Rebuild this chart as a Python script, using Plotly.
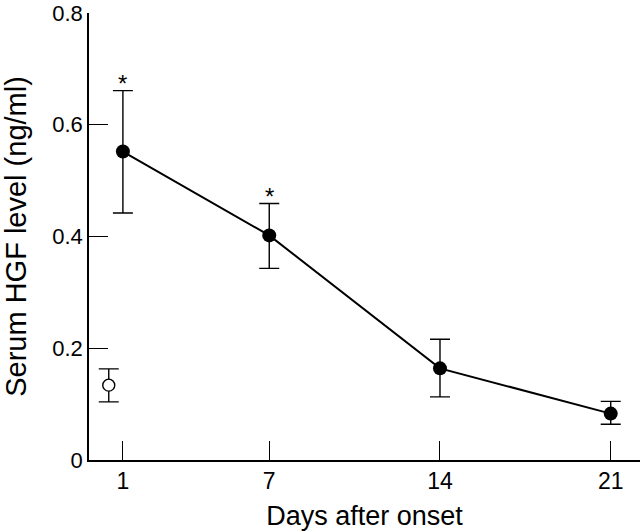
import plotly.graph_objects as go

# Data
days = [1, 7, 14, 21]
hgf_mean = [0.552, 0.402, 0.164, 0.083]
hgf_err_plus = [0.109, 0.057, 0.052, 0.022]
hgf_err_minus = [0.110, 0.059, 0.051, 0.019]
significant = [True, True, False, False]

control_day = [0.42]
control_mean = [0.134]
control_err_plus = [0.029]
control_err_minus = [0.030]

x_tick_vals = [1, 7, 14, 21]
x_tick_text = ["1", "7", "14", "21"]
y_tick_vals = [0, 0.2, 0.4, 0.6, 0.8]
y_tick_text = ["0", "0.2", "0.4", "0.6", "0.8"]

FONT = "Liberation Sans, Arial, Helvetica, sans-serif"

fig = go.Figure()

fig.add_trace(go.Scatter(
    x=days, y=hgf_mean, mode="lines+markers",
    line=dict(color="black", width=2),
    marker=dict(color="black", size=14, symbol="circle"),
    error_y=dict(type="data", symmetric=False, array=hgf_err_plus,
                 arrayminus=hgf_err_minus, color="black", thickness=1.4, width=10),
    showlegend=False,
))

fig.add_trace(go.Scatter(
    x=control_day, y=control_mean, mode="markers",
    marker=dict(color="white", size=12, symbol="circle",
                line=dict(color="black", width=1.4)),
    error_y=dict(type="data", symmetric=False, array=control_err_plus,
                 arrayminus=control_err_minus, color="black", thickness=1.4, width=10),
    showlegend=False,
))

for d, m, ep, sig in zip(days, hgf_mean, hgf_err_plus, significant):
    if sig:
        fig.add_annotation(x=d, y=m + ep, text="*", showarrow=False,
                           yanchor="bottom", yshift=-8,
                           font=dict(family=FONT, size=24, color="black"))

fig.update_layout(
    width=640, height=532,
    margin=dict(l=89, r=0, t=13, b=72),
    paper_bgcolor="white", plot_bgcolor="white",
    font=dict(family=FONT, size=22, color="black"),
    xaxis=dict(
        range=[-0.39, 22.2], tickvals=x_tick_vals, ticktext=x_tick_text,
        ticks="inside", ticklen=19, tickwidth=1.4, tickcolor="black",
        showline=True, linecolor="black", linewidth=1.5,
        showgrid=False, zeroline=False, ticklabeloverflow="allow", automargin=False,
        tickfont=dict(family=FONT, size=23),
        title=dict(text="Days after onset", font=dict(family=FONT, size=27), standoff=13),
    ),
    yaxis=dict(
        range=[0, 0.8], tickvals=y_tick_vals, ticktext=y_tick_text,
        ticks="inside", ticklen=19, tickwidth=1.4, tickcolor="black",
        showline=True, linecolor="black", linewidth=1.5,
        showgrid=False, zeroline=False, ticklabeloverflow="allow", automargin=False,
        tickfont=dict(family=FONT, size=22),
        title=dict(text="Serum HGF level (ng/ml)", font=dict(family=FONT, size=29), standoff=18),
    ),
)

fig.write_html("out.html", config={"displayModeBar": False},
               post_script="document.body.style.margin='0';")
